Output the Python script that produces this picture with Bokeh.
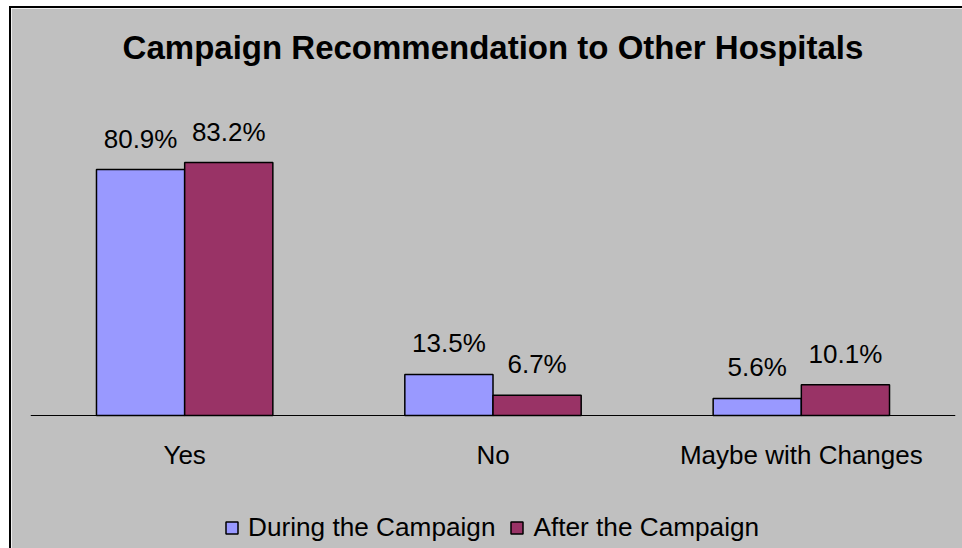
from bokeh.plotting import figure
from bokeh.embed import file_html
from bokeh.resources import INLINE
from bokeh.models import ColumnDataSource, FactorRange, Range1d, Legend, LegendItem, Spacer
from bokeh.layouts import column, row
from bokeh.transform import dodge
from bokeh.core.properties import value

categories = ["Yes", "No", "Maybe with Changes"]
during = [80.9, 13.5, 5.6]
after = [83.2, 6.7, 10.1]
series = ["During the Campaign", "After the Campaign"]
title = "Campaign Recommendation to Other Hospitals"

BG = "#C0C0C0"
C_DURING = "#9999FF"
C_AFTER = "#993366"
FONT = "Liberation Sans"

src = ColumnDataSource(dict(
    cat=categories,
    during=during,
    after=after,
    during_lbl=[f"{v:.1f}%" for v in during],
    after_lbl=[f"{v:.1f}%" for v in after],
))

p = figure(
    width=951, height=540,
    x_range=FactorRange(factors=categories, range_padding=0),
    y_range=Range1d(-43.75, 110.2),
    output_backend="svg", toolbar_location=None,
    background_fill_color=BG, border_fill_color=BG,
    min_border_left=19, min_border_right=7,
    min_border_top=72, min_border_bottom=0,
)
p.outline_line_color = BG
p.outline_line_width = 2
p.grid.visible = False
p.yaxis.visible = False

p.title.text = title
p.title.align = "center"
p.title.vertical_align = "bottom"
p.title.text_font = FONT
p.title.text_font_size = "33px"
p.title.text_font_style = "bold"
p.title.text_color = "black"
p.title.standoff = 30

bw = 0.286
off = 0.143
r1 = p.vbar(x=dodge("cat", -off, range=p.x_range), top="during", width=bw, source=src,
            fill_color=C_DURING, line_color="black", line_width=1.5)
r2 = p.vbar(x=dodge("cat", off, range=p.x_range), top="after", width=bw, source=src,
            fill_color=C_AFTER, line_color="black", line_width=1.5)

for col, lbl, dx in (("during", "during_lbl", -off), ("after", "after_lbl", off)):
    p.text(x=dodge("cat", dx, range=p.x_range), y=col, text=lbl, source=src,
           text_align="center", text_baseline="alphabetic", y_offset=-31,
           text_font=value(FONT), text_font_size="26px", text_color="black")

ax = p.xaxis[0]
ax.fixed_location = 0
ax.axis_line_color = "black"
ax.axis_line_width = 1
ax.major_tick_line_color = None
ax.minor_tick_line_color = None
ax.major_tick_out = 0
ax.major_label_standoff = 24
ax.major_label_text_font = FONT
ax.major_label_text_font_size = "26px"
ax.major_label_text_color = "black"

legend = Legend(items=[LegendItem(label=series[0], renderers=[r1]),
                       LegendItem(label=series[1], renderers=[r2])],
                orientation="horizontal", location=(194, 5),
                margin=0, padding=0, spacing=14, label_standoff=9,
                glyph_width=15, glyph_height=15,
                label_text_font=FONT, label_text_font_size="26.2px",
                label_text_color="black",
                background_fill_alpha=0, border_line_color=None)
p.add_layout(legend, "center")

blk = {"background-color": "black"}
layout = column(
    Spacer(width=962, height=6),
    row(
        Spacer(width=9, height=542),
        column(
            Spacer(width=953, height=2, styles=blk),
            row(Spacer(width=2, height=540, styles=blk), p),
        ),
    ),
)

open("out.html", "w").write(file_html(layout, INLINE))
